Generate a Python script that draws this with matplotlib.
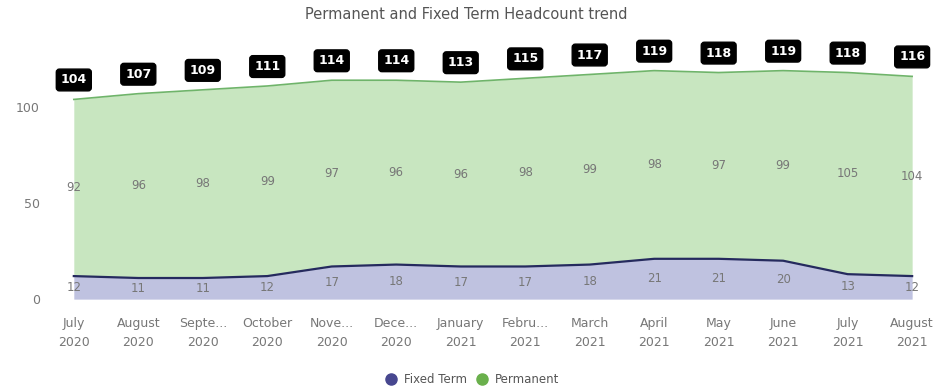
import matplotlib
matplotlib.use("Agg")
import matplotlib.pyplot as plt
from matplotlib.lines import Line2D
import numpy as np

# dados
months = ["July\n2020", "August\n2020", "Septe...\n2020", "October\n2020", "Nove...\n2020",
          "Dece...\n2020", "January\n2021", "Febru...\n2021", "March\n2021", "April\n2021",
          "May\n2021", "June\n2021", "July\n2021", "August\n2021"]
fixed_term = [12, 11, 11, 12, 17, 18, 17, 17, 18, 21, 21, 20, 13, 12]
permanent = [92, 96, 98, 99, 97, 96, 96, 98, 99, 98, 97, 99, 105, 104]

x = np.arange(len(months))
fixed = np.array(fixed_term)
perm = np.array(permanent)
total = fixed + perm

fig = plt.figure(figsize=(9.33, 3.9), dpi=100)
ax = fig.add_axes([0.048, 0.233, 0.949, 0.613])

# areas empilhadas
ax.fill_between(x, 0, fixed, color="#bfc2e0", lw=0)
ax.fill_between(x, fixed, total, color="#c8e6c0", lw=0)
ax.plot(x, fixed, color="#252a5e", lw=1.6)
ax.plot(x, total, color="#6fb46a", lw=1.2)

# rotulos
for i in x:
    ax.text(i, fixed[i] / 2, str(fixed[i]), ha="center", va="center",
            fontsize=8.5, color="#777777")
    ax.text(i, fixed[i] + perm[i] / 2, str(perm[i]), ha="center", va="center",
            fontsize=8.5, color="#777777")
    ax.annotate(str(total[i]), (i, total[i]), xytext=(0, 14), textcoords="offset points",
                ha="center", va="center", fontsize=9, fontweight="bold", color="white",
                bbox=dict(boxstyle="round,pad=0.35,rounding_size=0.25", fc="black", ec="black"),
                annotation_clip=False)

ax.set_xlim(-0.45, 13.28)
ax.set_ylim(0, 124.5)
ax.set_yticks([0, 50, 100])
ax.set_xticks(x)
ax.set_xticklabels(months, linespacing=1.6)
ax.tick_params(axis="both", length=0, labelsize=9, labelcolor="#777777")
ax.tick_params(axis="x", pad=13)
for s in ax.spines.values():
    s.set_visible(False)

fig.text(0.5, 0.962, "Permanent and Fixed Term Headcount trend", ha="center", va="center",
         fontsize=10.5, color="#555555")

handles = [Line2D([], [], marker="o", ls="", color="#47478f", markersize=8),
           Line2D([], [], marker="o", ls="", color="#6ab04c", markersize=8)]
fig.legend(handles, ["Fixed Term", "Permanent"], loc="center", bbox_to_anchor=(0.503, 0.027),
           ncol=2, frameon=False, fontsize=8.5, handletextpad=0.05, columnspacing=0.3,
           labelcolor="#555555")

fig.savefig("out.png", dpi=100)
